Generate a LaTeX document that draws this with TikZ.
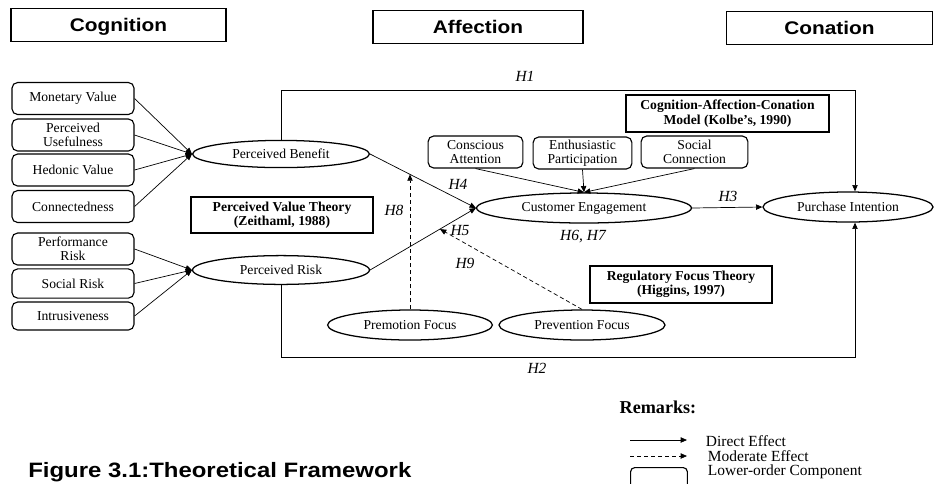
\documentclass[tikz,border=0pt]{standalone}
\usepackage{fontspec}
\setmainfont{Liberation Serif}
\newfontfamily\hdfont{Liberation Sans}
\usepackage{graphicx}
\usetikzlibrary{arrows.meta,shapes.geometric,calc}
\newcommand{\sx}[1]{\scalebox{1.14}[1]{#1}}

\begin{document}
\begin{tikzpicture}[
  x=0.025cm, y=-0.025cm,
  every node/.style={font=\fontsize{9.7}{10.2}\selectfont},
  header/.style={draw,line width=1.2pt,minimum height=0.82cm,text depth=0pt,
                 font=\hdfont\bfseries\fontsize{13}{15}\selectfont},
  lowbox/.style={draw,rounded corners=4pt,line width=0.8pt,minimum width=3.05cm,
                 minimum height=0.8cm,align=center,inner sep=1pt},
  construct/.style={draw,ellipse,line width=0.9pt,inner sep=0pt,minimum height=0.75cm},
  theory/.style={draw,line width=1pt,align=center,
                 font=\bfseries\fontsize{9.7}{10.3}\selectfont},
  hyp/.style={font=\itshape\fontsize{11}{13}\selectfont},
  arr/.style={-{Triangle[length=4.5pt,width=3.8pt]},line width=0.5pt},
  modarr/.style={arr,dash pattern=on 3pt off 2pt},
  legend/.style={anchor=west,font=\fontsize{11}{13}\selectfont},
]
  \useasboundingbox (0,0) rectangle (934,483);

  % Headers
  \node[header,minimum width=5.375cm] (cog) at (118.5,25) {\sx{Cognition}};
  \node[header,minimum width=5.25cm]  (aff) at (478,27)   {\sx{Affection}};
  \node[header,minimum width=5.15cm]  (con) at (829.5,28) {\sx{Conation}};

  % Lower-order components (cognition)
  \node[lowbox] (mv)  at (73,98.5)  {Monetary Value};
  \node[lowbox] (pu)  at (73,135)   {Perceived\\Usefulness};
  \node[lowbox] (hv)  at (73,170)   {Hedonic Value};
  \node[lowbox] (cn)  at (73,206.5) {Connectedness};
  \node[lowbox] (pr1) at (73,249)   {Performance\\Risk};
  \node[lowbox,minimum height=0.73cm] (sr)  at (73,283.5) {Social Risk};
  \node[lowbox,minimum height=0.7cm]  (itr) at (73,316)   {Intrusiveness};

  % Constructs
  \node[construct,minimum width=4.42cm,minimum height=0.68cm] (pb) at (281,154) {Perceived Benefit};
  \node[construct,minimum width=4.42cm,minimum height=0.72cm] (pr) at (281,270) {Perceived Risk};
  \node[construct,minimum width=5.37cm] (ce)  at (584,208) {Customer Engagement};
  \node[construct,minimum width=4.25cm] (pi)  at (848,207) {Purchase Intention};
  \node[construct,minimum width=4.12cm] (prm) at (410,325) {Premotion Focus};
  \node[construct,minimum width=4.15cm] (prv) at (582,325) {Prevention Focus};

  % Lower-order components (affection)
  \node[lowbox,minimum width=2.37cm] (ca) at (475.5,152) {Conscious\\Attention};
  \node[lowbox,minimum width=2.47cm] (ep) at (582.5,153) {Enthusiastic\\Participation};
  \node[lowbox,minimum width=2.67cm] (sc) at (694.5,152) {Social\\Connection};

  % Theories
  \node[theory,minimum width=4.55cm,minimum height=0.9cm] (pvt) at (282,215)
    {Perceived Value Theory\\(Zeithaml, 1988)};
  \node[theory,minimum width=5.07cm,minimum height=0.92cm] (cac) at (727.5,113.5)
    {Cognition-Affection-Conation\\Model (Kolbe's, 1990)};
  \node[theory,minimum width=4.55cm,minimum height=0.92cm] (rft) at (681,284.5)
    {Regulatory Focus Theory\\(Higgins, 1997)};

  % Formative arrows
  \foreach \b in {mv,pu,hv,cn} \draw[arr] (\b.east) -- (pb.west);
  \foreach \b in {pr1,sr,itr} \draw[arr] (\b.east) -- (pr.west);
  \foreach \b in {ca,ep,sc} \draw[arr] (\b.south) -- (ce.north);

  % Direct effects
  \draw[arr] (pb.east) -- (ce.west);
  \draw[arr] (pr.east) -- (ce.west);
  \draw[arr] (ce.east) -- (pi.west);
  \coordinate (h1c) at (855,90);
  \coordinate (h2c) at (855,357);
  \draw[arr] (pb.north) |- (h1c) -- (h1c |- pi.north);
  \draw[arr] (pr.south) |- (h2c) -- (h2c |- pi.south);

  % Moderating effects
  \path (pb.east) -- (ce.west) coordinate[pos=0.378] (h8end);
  \path (pr.east) -- (ce.west) coordinate[pos=0.66] (h9end);
  \draw[modarr] (prm.north) -- (prm.north |- h8end);
  \draw[modarr] (prv.north) -- (h9end);

  % Hypotheses
  \node[hyp] (h1) at (525,76)  {H1};
  \node[hyp] (h2) at (537,368) {H2};
  \node[hyp] (h3) at (728,196) {H3};
  \node[hyp] (h4) at (458,184) {H4};
  \node[hyp] (h5) at (460,231) {H5};
  \node[hyp] (h67) at (583,237) {H6, H7};
  \node[hyp] (h8) at (394,210) {H8};
  \node[hyp] (h9) at (465,263) {H9};

  % Remarks
  \node[font=\bfseries\fontsize{12.9}{15}\selectfont] (rem) at (658,407) {Remarks:};
  \coordinate (d1) at (630,440); \coordinate (d2) at (687,440);
  \coordinate (m1) at (630,456); \coordinate (m2) at (687,456);
  \draw[arr] (d1) -- (d2);
  \draw[modarr] (m1) -- (m2);
  \node[draw,rounded corners=3pt,line width=0.8pt,minimum width=1.42cm,
        minimum height=0.6cm,anchor=north west] (lbox) at (630,467) {};
  \node[legend] (ld) at (701,441) {Direct Effect};
  \node[legend] (lm) at (703,456) {Moderate Effect};
  \node[legend] (ll) at (703,472) {Lower-order Component};

  % Caption
  \node[anchor=base west,inner sep=0pt,font=\hdfont\bfseries\fontsize{14.8}{17}\selectfont]
    (cap) at (28,477) {\scalebox{1.15}[1]{Figure 3.1:Theoretical Framework}};
\end{tikzpicture}
\end{document}
